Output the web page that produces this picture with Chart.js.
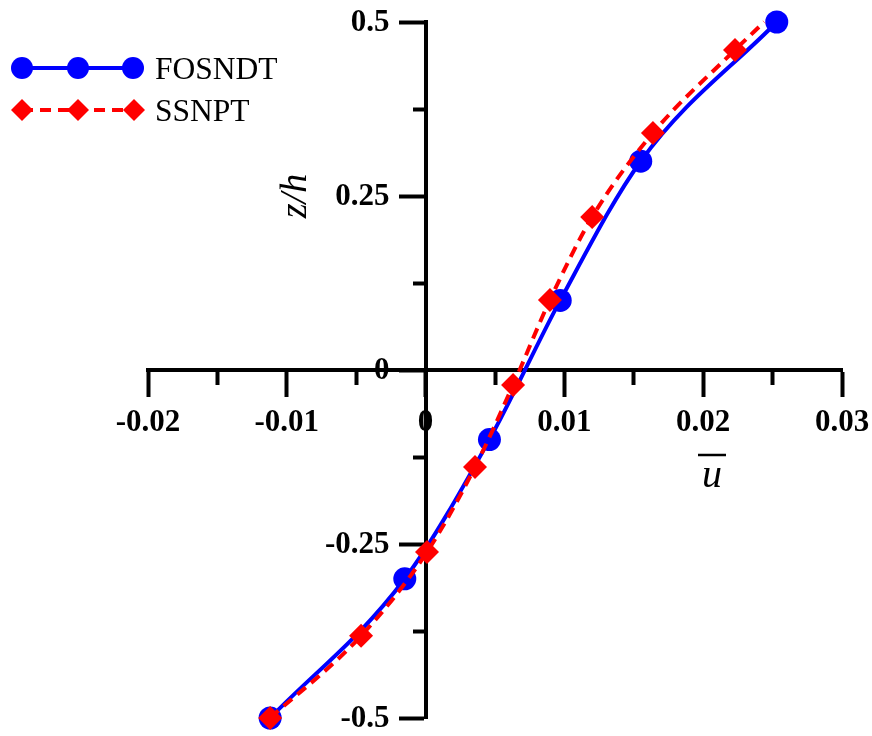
<!DOCTYPE html>
<html>
<head>
<meta charset="utf-8">
<script src="https://cdn.jsdelivr.net/npm/chart.js@4.4.1/dist/chart.umd.min.js"></script>
<style>
  body { margin: 0; background: #fff; }
  #box { width: 872px; height: 736px; }
</style>
</head>
<body>
<div id="box"><canvas id="c"></canvas></div>
<script>
// FOSNDT (blue, solid, circles)
const fosX = [-0.0112, -0.0015, 0.0046, 0.0097, 0.0155, 0.0253]
const fosZ = [-0.5, -0.3, -0.1, 0.1, 0.3, 0.5]
// SSNPT (red, dashed, diamonds) - last point has no marker
const ssnX = [-0.0112, -0.00465, 0.0001, 0.00356, 0.0063, 0.00896, 0.0120, 0.01638, 0.02229, 0.0244]
const ssnZ = [-0.5, -0.382, -0.2615, -0.1394, -0.0216, 0.1006, 0.2198, 0.3405, 0.4598, 0.5]

const xMajor = [-0.02, -0.01, 0, 0.01, 0.02, 0.03]
const xTickLabels = ['-0.02', '-0.01', '0', '0.01', '0.02', '0.03']
const xMinor = [-0.015, -0.005, 0.005, 0.015, 0.025]
const yMajor = [-0.5, -0.25, 0, 0.25, 0.5]
const yTickLabels = ['-0.5', '-0.25', '0', '0.25', '0.5']
const yMinor = [-0.375, -0.125, 0.125, 0.375]

const BLUE = '#0000ff'
const RED = '#ff0000'

function pts(xs, ys) {
  return xs.map((x, i) => ({ x: x, y: ys[i] }))
}

function setTicks(vals) {
  return scale => { scale.ticks = vals.map(v => ({ value: v })) }
}

const axisBase = {
  type: 'linear',
  grid: { drawOnChartArea: false, drawTicks: true, tickColor: '#000', tickWidth: 4 },
  border: { display: true, color: '#000', width: 4 },
  ticks: { display: false }
}

const overlay = {
  id: 'overlay',
  afterDraw(chart) {
    const ctx = chart.ctx
    ctx.save()
    // tick labels, placed from the scales (axes cross at the origin)
    const xs = chart.scales.x
    const ys = chart.scales.y
    const x0 = xs.getPixelForValue(0)
    const y0 = ys.getPixelForValue(0)
    ctx.fillStyle = '#000'
    ctx.font = 'bold 31px "Liberation Serif"'
    ctx.textBaseline = 'middle'
    ctx.textAlign = 'right'
    yMajor.forEach((v, i) => {
      ctx.fillText(yTickLabels[i], x0 - 36, ys.getPixelForValue(v) + 1)
    })
    ctx.textAlign = 'center'
    xMajor.forEach((v, i) => {
      ctx.fillText(xTickLabels[i], xs.getPixelForValue(v), y0 + 53)
    })

    // legend
    ctx.lineWidth = 4
    ctx.strokeStyle = BLUE
    ctx.beginPath(); ctx.moveTo(20, 68); ctx.lineTo(134, 68); ctx.stroke()
    ctx.fillStyle = BLUE
    for (const cx of [22, 78, 133]) {
      ctx.beginPath(); ctx.arc(cx, 68, 11, 0, Math.PI * 2); ctx.fill()
    }
    ctx.strokeStyle = RED
    ctx.setLineDash([11, 7])
    ctx.beginPath(); ctx.moveTo(22, 110); ctx.lineTo(134, 110); ctx.stroke()
    ctx.setLineDash([])
    ctx.fillStyle = RED
    for (const cx of [22, 78, 134]) {
      ctx.beginPath()
      ctx.moveTo(cx, 99); ctx.lineTo(cx + 11, 110); ctx.lineTo(cx, 121); ctx.lineTo(cx - 11, 110)
      ctx.closePath(); ctx.fill()
    }
    ctx.fillStyle = '#000'
    ctx.font = '31.5px "Liberation Serif"'
    ctx.textBaseline = 'alphabetic'
    ctx.textAlign = 'left'
    ctx.fillText('FOSNDT', 155, 79)
    ctx.fillText('SSNPT', 155, 121)

    // axis titles
    ctx.font = 'italic 38px "Liberation Serif"'
    ctx.textAlign = 'center'
    ctx.textBaseline = 'middle'
    ctx.save()
    ctx.translate(296, 196)
    ctx.rotate(-Math.PI / 2)
    ctx.fillText('z/h', 0, 0)
    ctx.restore()

    ctx.font = 'italic 40px "Liberation Serif"'
    ctx.textBaseline = 'alphabetic'
    ctx.fillText('u', 712, 487)
    ctx.lineWidth = 2.5
    ctx.strokeStyle = '#000'
    ctx.beginPath(); ctx.moveTo(698, 455); ctx.lineTo(726, 455); ctx.stroke()
    ctx.restore()
  }
}

new Chart(document.getElementById('c'), {
  type: 'scatter',
  data: {
    datasets: [
      {
        label: 'SSNPT',
        data: pts(ssnX, ssnZ),
        showLine: true,
        clip: false,
        borderColor: RED,
        backgroundColor: RED,
        borderWidth: 4,
        borderDash: [11, 7],
        cubicInterpolationMode: 'monotone',
        pointStyle: 'rectRot',
        pointRadius: ssnX.map((v, i) => i === ssnX.length - 1 ? 0 : 12),
        pointBorderWidth: 0,
        order: 1
      },
      {
        label: 'FOSNDT',
        data: pts(fosX, fosZ),
        showLine: true,
        clip: false,
        borderColor: BLUE,
        backgroundColor: BLUE,
        borderWidth: 4,
        cubicInterpolationMode: 'monotone',
        pointStyle: 'circle',
        pointRadius: 11.5,
        pointBorderWidth: 0,
        order: 2
      }
    ]
  },
  options: {
    responsive: true,
    maintainAspectRatio: false,
    animation: false,
    layout: { padding: { left: 148, right: 30, top: 22, bottom: 18 } },
    plugins: { legend: { display: false }, tooltip: { enabled: false } },
    scales: {
      x: Object.assign({}, axisBase, {
        min: -0.02, max: 0.03,
        position: { y: 0 },
        grid: Object.assign({}, axisBase.grid, { tickLength: 25 }),
        afterBuildTicks: setTicks(xMajor)
      }),
      xMinor: Object.assign({}, axisBase, {
        axis: 'x',
        min: -0.02, max: 0.03,
        position: { y: 0 },
        grid: Object.assign({}, axisBase.grid, { tickLength: 13 }),
        afterBuildTicks: setTicks(xMinor)
      }),
      y: Object.assign({}, axisBase, {
        min: -0.5, max: 0.5,
        position: { x: 0 },
        grid: Object.assign({}, axisBase.grid, { tickLength: 25 }),
        afterBuildTicks: setTicks(yMajor)
      }),
      yMinor: Object.assign({}, axisBase, {
        axis: 'y',
        min: -0.5, max: 0.5,
        position: { x: 0 },
        grid: Object.assign({}, axisBase.grid, { tickLength: 11 }),
        afterBuildTicks: setTicks(yMinor)
      })
    }
  },
  plugins: [overlay]
})
</script>
</body>
</html>
